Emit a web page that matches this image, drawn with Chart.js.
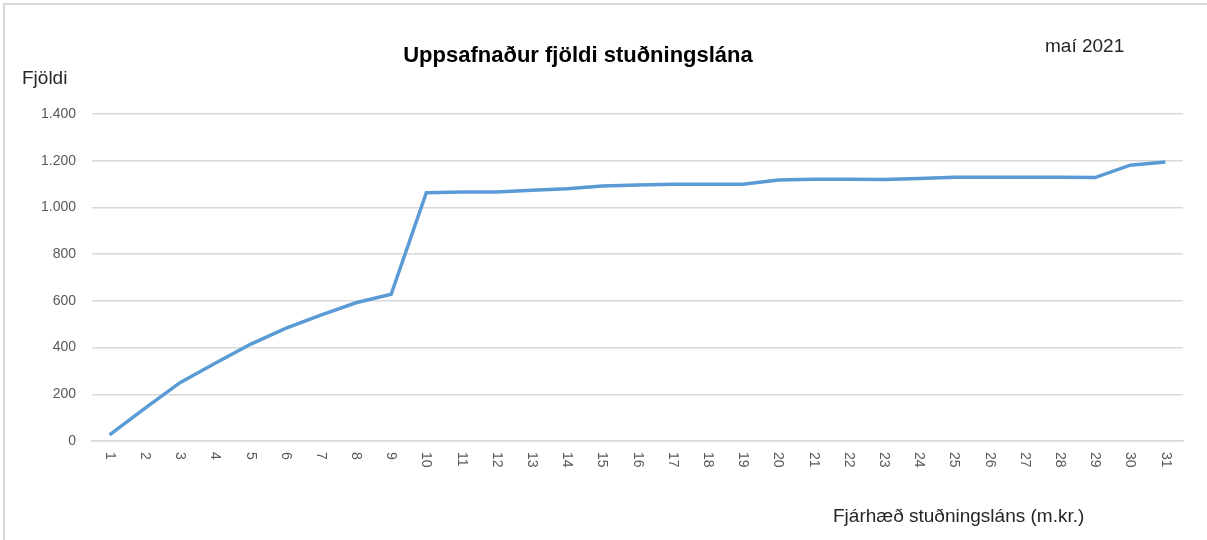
<!DOCTYPE html>
<html>
<head>
<meta charset="utf-8">
<script src="https://cdn.jsdelivr.net/npm/chart.js@4"></script>
<style>
  html, body { margin: 0; padding: 0; background: #fff; }
  #wrap { position: relative; width: 1207px; height: 540px; }
  #frame { position: absolute; left: 3px; top: 3px; right: 0; bottom: 0; border-top: 2px solid #d9d9d9; border-left: 2px solid #d9d9d9; pointer-events: none; }
</style>
</head>
<body>
<div id="wrap">
  <canvas id="chart" width="1207" height="540"></canvas>
  <div id="frame"></div>
</div>
<script>
// cumulative number of support loans by amount (m.kr.)
const amounts = ['1','2','3','4','5','6','7','8','9','10','11','12','13','14','15','16',
  '17','18','19','20','21','22','23','24','25','26','27','28','29','30','31'];
const cumulative = [26, 140, 250, 333, 414, 482, 539, 592, 628, 1063, 1066, 1066, 1074, 1080,
  1092, 1096, 1099, 1099, 1099, 1117, 1121, 1121, 1120, 1124, 1129, 1129, 1129, 1129, 1128, 1181, 1194];
const yTicks = [0, 200, 400, 600, 800, 1000, 1200, 1400];

const titleText = 'Uppsafnaður fjöldi stuðningslána';
const dateText = 'maí 2021';
const yTitle = 'Fjöldi';
const xTitle = 'Fjárhæð stuðningsláns (m.kr.)';

const FONT = '"Liberation Sans", Arial, sans-serif';

const fmt = v => String(v).replace(/\B(?=(\d{3})+(?!\d))/g, '.');

const textPlugin = {
  id: 'texts',
  afterDraw(chart) {
    const ctx = chart.ctx;
    const xs = chart.scales.x;
    ctx.save();
    // rotated category labels, reading downwards
    ctx.fillStyle = '#595959';
    ctx.font = '14px ' + FONT;
    ctx.textAlign = 'left';
    ctx.textBaseline = 'middle';
    amounts.forEach((lab, i) => {
      const x = xs.getPixelForTick(i);
      ctx.save();
      ctx.translate(x, chart.chartArea.bottom + 11);
      ctx.rotate(Math.PI / 2);
      ctx.fillText(lab, 0, 0);
      ctx.restore();
    });
    // title
    ctx.textBaseline = 'alphabetic';
    ctx.fillStyle = '#000';
    ctx.textAlign = 'center';
    ctx.font = 'bold 22px ' + FONT;
    ctx.fillText(titleText, 578, 62, 371);
    // other labels
    ctx.fillStyle = '#262626';
    ctx.font = '19px ' + FONT;
    ctx.textAlign = 'left';
    ctx.fillText(dateText, 1045, 52, 81);
    ctx.fillText(yTitle, 22, 84, 47);
    ctx.fillText(xTitle, 833, 522, 256);
    ctx.restore();
  }
};

new Chart(document.getElementById('chart'), {
  type: 'line',
  data: {
    labels: amounts,
    datasets: [{
      data: cumulative,
      borderColor: '#5b9bd5',
      borderWidth: 3.5,
      pointRadius: 0,
      tension: 0,
      fill: false
    }]
  },
  options: {
    responsive: false,
    animation: false,
    layout: { padding: { left: 0, right: 24, top: 114, bottom: 0 } },
    plugins: { legend: { display: false }, tooltip: { enabled: false } },
    scales: {
      x: {
        offset: true,
        grid: { display: false },
        border: { color: '#d9d9d9', width: 1.5 },
        ticks: { display: false },
        afterFit: s => { s.height = 99; }
      },
      y: {
        min: 0,
        max: 1400,
        afterBuildTicks: s => { s.ticks = yTicks.map(v => ({ value: v })); },
        grid: { color: '#d9d9d9', lineWidth: 1.5, drawTicks: false },
        border: { display: false },
        ticks: {
          color: '#595959',
          font: { size: 14, family: FONT },
          padding: 16,
          callback: v => fmt(v)
        },
        afterFit: s => { s.width = 92; }
      }
    }
  },
  plugins: [textPlugin]
});
</script>
</body>
</html>
